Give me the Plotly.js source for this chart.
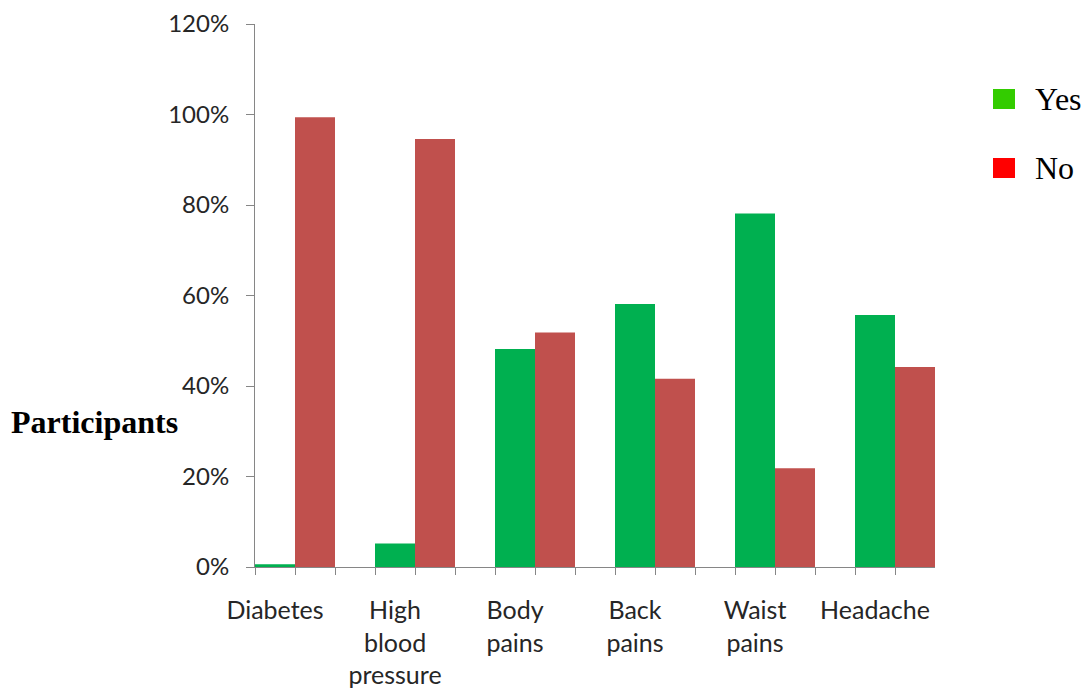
<!DOCTYPE html>
<html><head><meta charset="utf-8">
<script src="https://cdn.plot.ly/plotly-3.0.1.min.js"></script>
<style>html,body{margin:0;padding:0;background:#fff}</style>
</head><body><div id="chart" style="width:1092px;height:689px"></div>
<script>
const categories = ['Diabetes', 'High<br>blood<br>pressure', 'Body<br>pains', 'Back<br>pains', 'Waist<br>pains', 'Headache'];
const yesValues = [0.006, 0.052, 0.482, 0.581, 0.781, 0.557];
const noValues = [0.994, 0.946, 0.518, 0.416, 0.218, 0.442];
const seriesNames = ['Yes', 'No'];
const barColors = ['#00B050', '#C0504D'];
const legendColors = ['#33CC00', '#FF0000'];
const yTickVals = [0, 0.2, 0.4, 0.6, 0.8, 1.0, 1.2];
const yAxisTitle = 'Participants';

const positions = categories.map((_, i) => i);
const barW = 1 / 3;
const slotTicks = [];
positions.forEach((p, i) => {
  slotTicks.push(p - barW / 2, p + barW / 2);
  if (i < positions.length - 1) slotTicks.push(p + 1.5 * barW);
});

const axisColor = '#868686';
const textColor = '#262626';
const sans = 'Lato, "Open Sans", sans-serif';
const serif = '"Liberation Serif", "Times New Roman", serif';

const traces = [
  {type: 'bar', name: seriesNames[0], x: positions, y: yesValues, width: barW, offset: -barW / 2,
   marker: {color: barColors[0], line: {width: 0}}, showlegend: false, hoverinfo: 'x+y'},
  {type: 'bar', name: seriesNames[1], x: positions, y: noValues, width: barW, offset: barW / 2,
   marker: {color: barColors[1], line: {width: 0}}, showlegend: false, hoverinfo: 'x+y'}
];

// legend (drawn manually to match the reference's larger swatches)
const L = 255, R = 935, T = 24, B = 567;
const px = v => (v - L) / (R - L);
const py = v => (B - v) / (B - T);
const legendRows = [99, 168];
const shapes = [];
const annotations = [];
seriesNames.forEach((n, i) => {
  const cy = legendRows[i];
  shapes.push({type: 'rect', xref: 'paper', yref: 'paper', x0: px(993), x1: px(1015), y0: py(cy + 10), y1: py(cy - 10),
    fillcolor: legendColors[i], line: {width: 0}});
  annotations.push({xref: 'paper', yref: 'paper', x: px(1033), y: py(cy), xanchor: 'left', yanchor: 'middle',
    text: n, showarrow: false, font: {family: serif, size: 32, color: '#000'}});
});
annotations.push({xref: 'paper', yref: 'paper', x: px(9), y: py(422), xanchor: 'left', yanchor: 'middle',
  text: '<b>' + yAxisTitle + '</b>', showarrow: false, font: {family: serif, size: 32, color: '#000'}});

const layout = {
  width: 1092, height: 689,
  margin: {l: L, r: 1092 - R, t: T, b: 689 - B, pad: 0},
  paper_bgcolor: '#fff', plot_bgcolor: '#fff',
  barmode: 'overlay',
  showlegend: false,
  font: {family: sans, color: textColor},
  xaxis: {
    range: [-barW / 2, positions.length - 1 + 1.5 * barW],
    tickmode: 'array', tickvals: positions, ticktext: categories,
    ticks: '', showline: true, linecolor: axisColor, linewidth: 1,
    showgrid: false, zeroline: false,
    tickfont: {family: sans, size: 25, color: textColor},
    ticklabelstandoff: 21,
    minor: {tickmode: 'array', tickvals: slotTicks, ticks: 'outside', ticklen: 7, tickcolor: axisColor, tickwidth: 1, showgrid: false}
  },
  yaxis: {
    range: [0, 1.2], tickmode: 'array', tickvals: yTickVals, tickformat: '.0%',
    ticks: 'outside', ticklen: 8, tickcolor: axisColor, tickwidth: 1,
    showline: true, linecolor: axisColor, linewidth: 1,
    showgrid: false, zeroline: false,
    tickfont: {family: sans, size: 24, color: textColor},
    ticklabelstandoff: 12
  },
  shapes: shapes,
  annotations: annotations
};

Plotly.newPlot('chart', traces, layout, {displayModeBar: false, staticPlot: true});
</script>
</body></html>
